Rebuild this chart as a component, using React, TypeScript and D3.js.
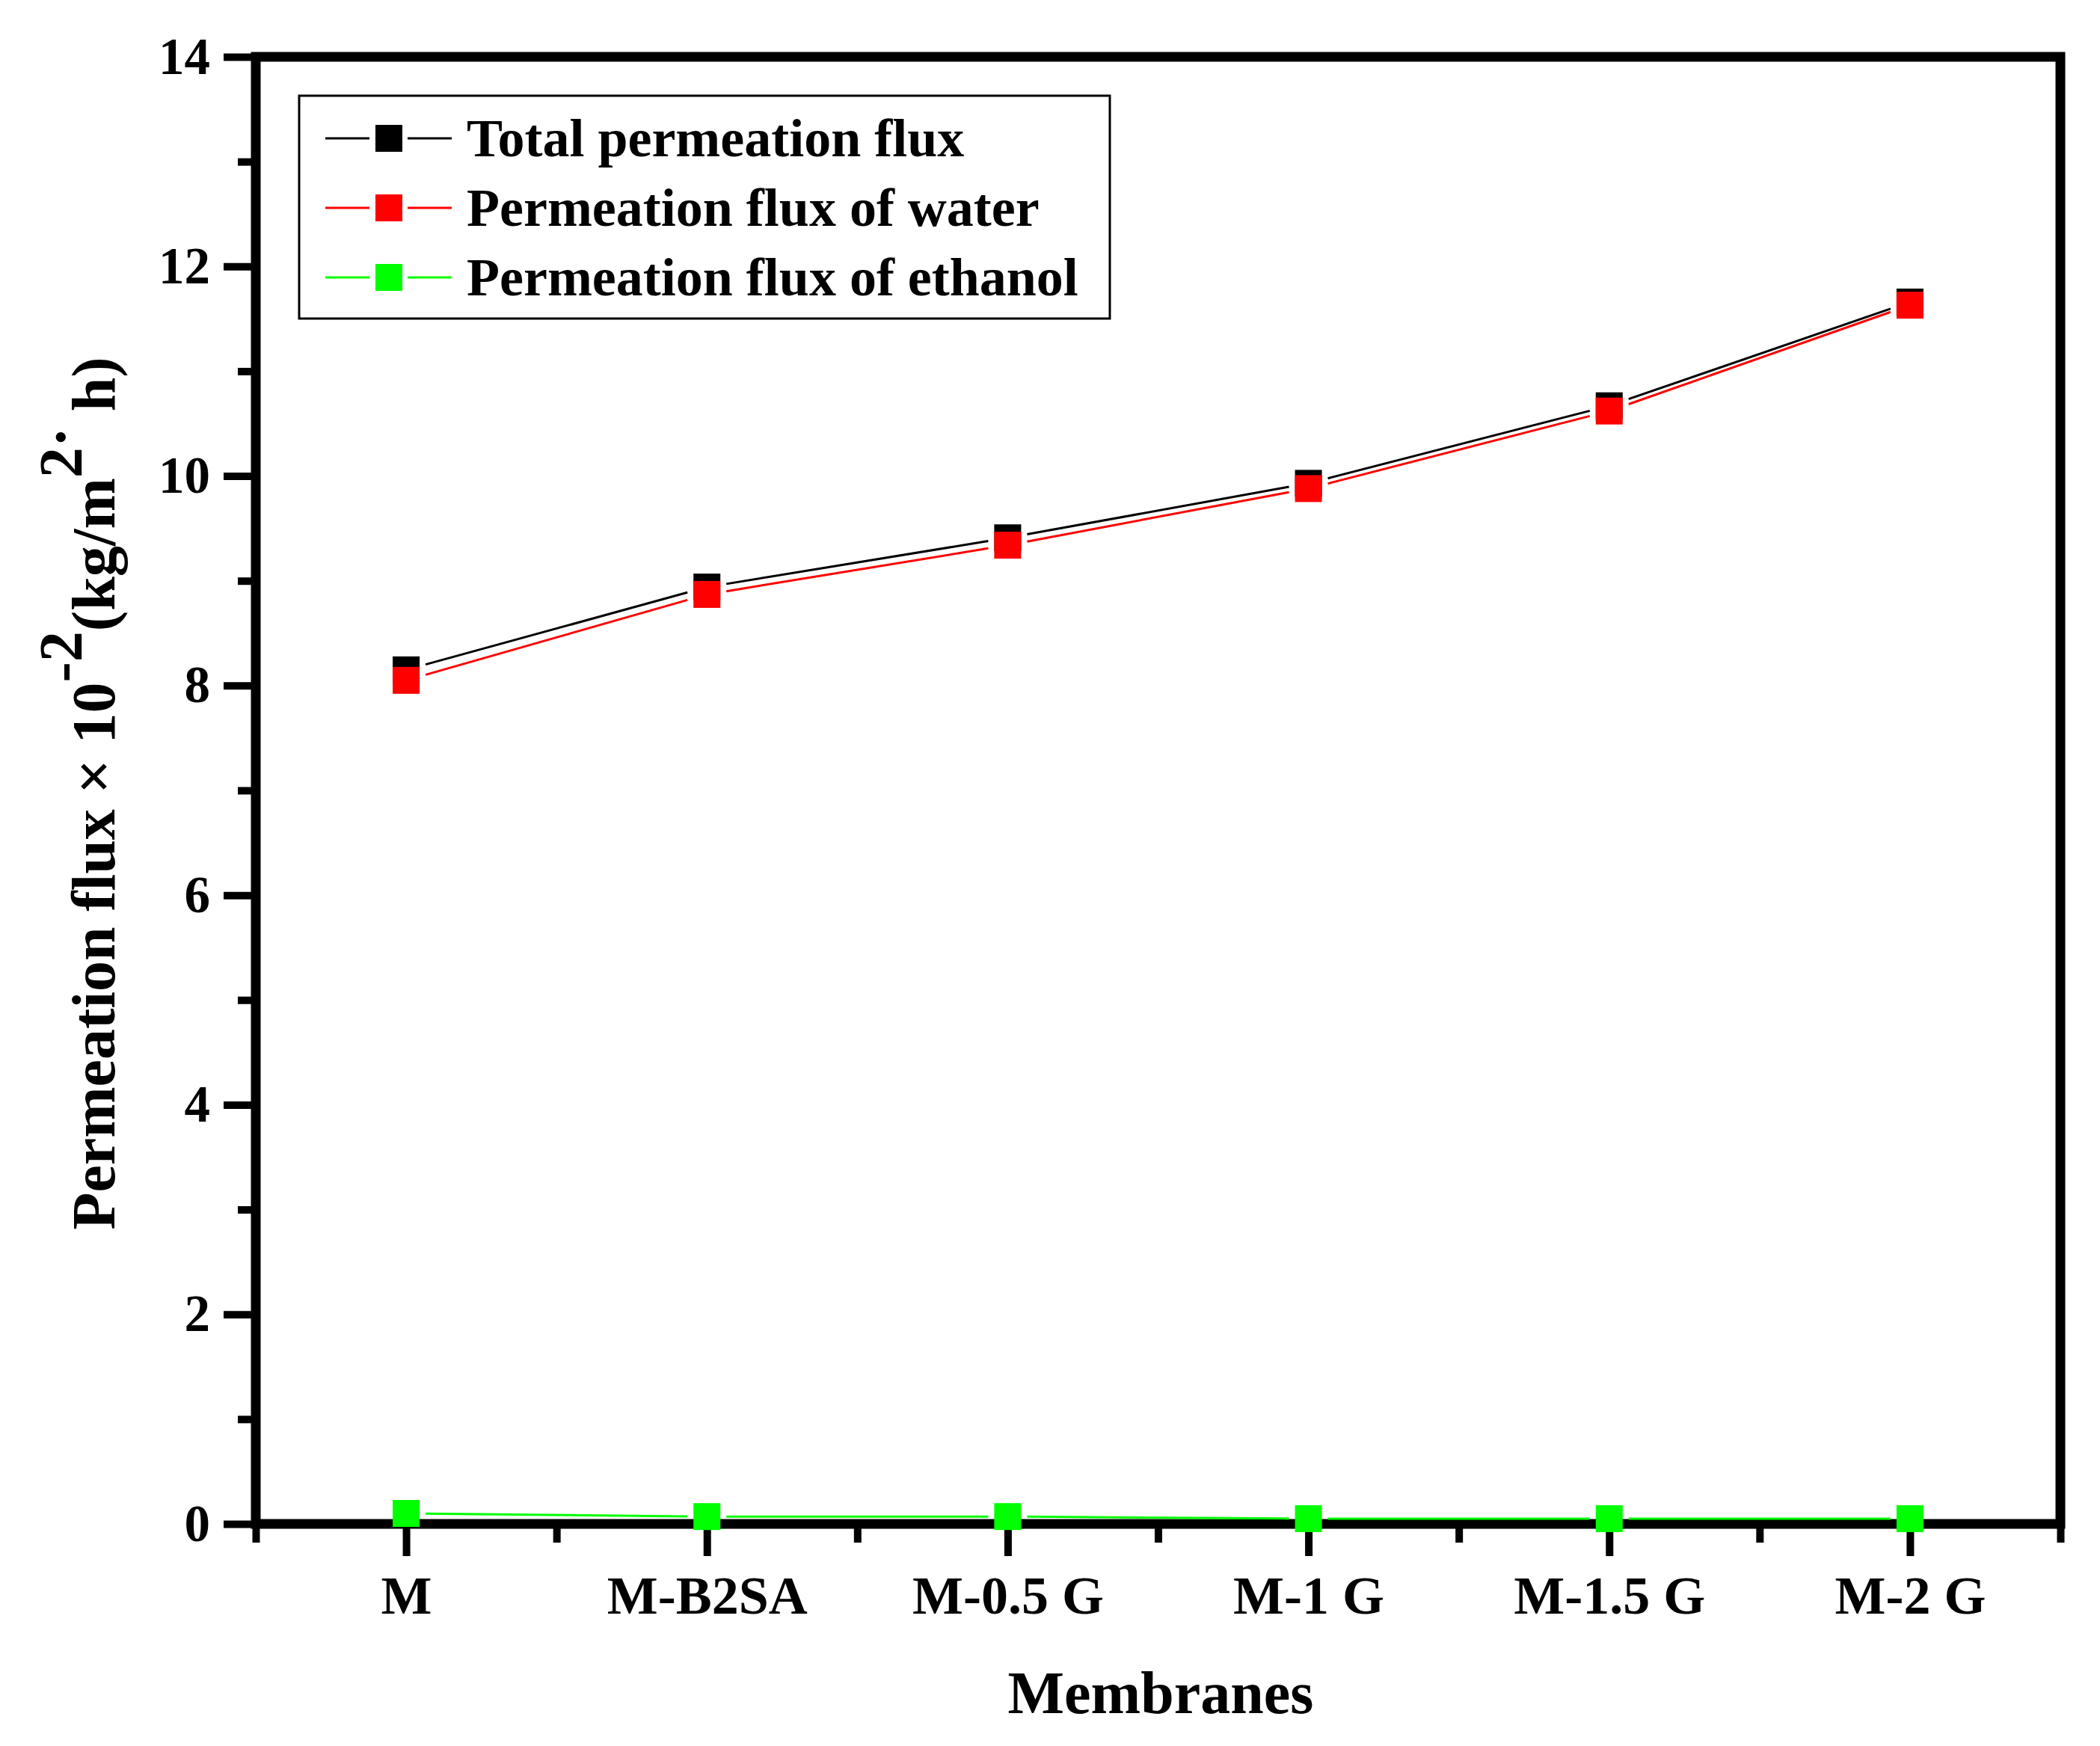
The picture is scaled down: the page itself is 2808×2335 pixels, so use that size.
import React, { useRef, useEffect } from "react";
import * as d3 from "d3";

const membranes = ["M", "M-B2SA", "M-0.5 G", "M-1 G", "M-1.5 G", "M-2 G"];
const totalFlux = [8.15, 8.94, 9.41, 9.93, 10.67, 11.66];
const waterFlux = [8.05, 8.87, 9.34, 9.88, 10.62, 11.63];
const ethanolFlux = [0.1, 0.07, 0.07, 0.05, 0.05, 0.05];
const yMajorTicks = [0, 2, 4, 6, 8, 10, 12, 14];
const yMinorTicks = [1, 3, 5, 7, 9, 11, 13];

const seriesNames = [
  "Total permeation flux",
  "Permeation flux of water",
  "Permeation flux of ethanol",
];
const seriesColors = ["#000000", "#ff0000", "#00ff00"];

const W = 2808;
const H = 2335;
const FONT = "'Liberation Serif', 'Times New Roman', serif";

const App: React.FC = () => {
  const svgRef = useRef<SVGSVGElement | null>(null);

  useEffect(() => {
    if (!svgRef.current) return;
    const svg = d3.select(svgRef.current);
    svg.selectAll("*").remove();

    const left = 342;
    const right = 2755;
    const top = 76;
    const bottom = 2038;

    const x = d3.scaleLinear().domain([-0.5, membranes.length - 0.5]).range([left, right]);
    const y = d3.scaleLinear().domain([0, 14]).range([bottom, top]);

    svg.append("rect").attr("width", W).attr("height", H).attr("fill", "#fff");

    // y axis ticks
    const yMajor = svg
      .append("g")
      .attr("transform", `translate(${left},0)`)
      .call(
        d3.axisLeft(y).tickValues(yMajorTicks).tickSize(43).tickSizeOuter(0).tickPadding(18).tickFormat(d3.format("d"))
      );
    yMajor.select(".domain").remove();
    yMajor.selectAll(".tick line").attr("stroke", "#000").attr("stroke-width", 10);
    yMajor
      .selectAll(".tick text")
      .attr("font-family", FONT)
      .attr("font-weight", "bold")
      .attr("font-size", 69)
      .attr("fill", "#000");

    const yMinor = svg
      .append("g")
      .attr("transform", `translate(${left},0)`)
      .call(d3.axisLeft(y).tickValues(yMinorTicks).tickSize(24).tickSizeOuter(0).tickFormat(() => ""));
    yMinor.select(".domain").remove();
    yMinor.selectAll(".tick line").attr("stroke", "#000").attr("stroke-width", 10);

    // x axis ticks
    const xMajor = svg
      .append("g")
      .attr("transform", `translate(0,${bottom})`)
      .call(
        d3
          .axisBottom(x)
          .tickValues(membranes.map((_, i) => i))
          .tickSize(43)
          .tickSizeOuter(0)
          .tickPadding(26)
          .tickFormat((d) => membranes[d as number])
      );
    xMajor.select(".domain").remove();
    xMajor.selectAll(".tick line").attr("stroke", "#000").attr("stroke-width", 10);
    xMajor
      .selectAll(".tick text")
      .attr("font-family", FONT)
      .attr("font-weight", "bold")
      .attr("font-size", 72)
      .attr("fill", "#000");

    const xMinor = svg
      .append("g")
      .attr("transform", `translate(0,${bottom})`)
      .call(
        d3
          .axisBottom(x)
          .tickValues(d3.range(-0.5, membranes.length, 1))
          .tickSize(25)
          .tickSizeOuter(0)
          .tickFormat(() => "")
      );
    xMinor.select(".domain").remove();
    xMinor.selectAll(".tick line").attr("stroke", "#000").attr("stroke-width", 10);

    // frame
    svg
      .append("rect")
      .attr("x", left)
      .attr("y", top)
      .attr("width", right - left)
      .attr("height", bottom - top)
      .attr("fill", "none")
      .attr("stroke", "#000")
      .attr("stroke-width", 13);

    // axis titles
    svg
      .append("text")
      .attr("x", 1552)
      .attr("y", 2291)
      .attr("text-anchor", "middle")
      .attr("font-family", FONT)
      .attr("font-weight", "bold")
      .attr("font-size", 80)
      .text("Membranes");

    const yTitle = svg
      .append("text")
      .attr("transform", `translate(153,${(top + bottom) / 2 + 4}) rotate(-90)`)
      .attr("text-anchor", "middle")
      .attr("font-family", FONT)
      .attr("font-weight", "bold")
      .attr("font-size", 82);
    yTitle.append("tspan").text("Permeation flux × 10");
    yTitle.append("tspan").attr("dy", -44).text("-2");
    yTitle.append("tspan").attr("dy", 44).text("(kg/m");
    yTitle.append("tspan").attr("dy", -44).text("2·");
    yTitle.append("tspan").attr("dy", 44).text(" h)");

    // series
    const marker = 36;
    const gap = 8;
    const series = [totalFlux, waterFlux, ethanolFlux];
    series.forEach((vals, si) => {
      const color = seriesColors[si];
      const pts = vals.map((v, i) => [x(i), y(v)] as [number, number]);
      const g = svg.append("g");
      for (let i = 0; i < pts.length - 1; i++) {
        const [x0, y0] = pts[i];
        const [x1, y1] = pts[i + 1];
        const dx = x1 - x0;
        const dy = y1 - y0;
        const off = marker / 2 + gap;
        const t = off / dx;
        g.append("line")
          .attr("x1", x0 + dx * t)
          .attr("y1", y0 + dy * t)
          .attr("x2", x1 - dx * t)
          .attr("y2", y1 - dy * t)
          .attr("stroke", color)
          .attr("stroke-width", 3);
      }
      g.selectAll("rect")
        .data(pts)
        .join("rect")
        .attr("x", (d) => d[0] - marker / 2)
        .attr("y", (d) => d[1] - marker / 2)
        .attr("width", marker)
        .attr("height", marker)
        .attr("fill", color);
    });

    // legend
    const legend = svg.append("g");
    legend
      .append("rect")
      .attr("x", 400)
      .attr("y", 128)
      .attr("width", 1084)
      .attr("height", 298)
      .attr("fill", "#fff")
      .attr("stroke", "#000")
      .attr("stroke-width", 3);
    seriesNames.forEach((name, i) => {
      const cy = 185 + i * 93;
      const color = seriesColors[i];
      legend.append("line").attr("x1", 435).attr("x2", 494).attr("y1", cy).attr("y2", cy).attr("stroke", color).attr("stroke-width", 3);
      legend.append("line").attr("x1", 545).attr("x2", 604).attr("y1", cy).attr("y2", cy).attr("stroke", color).attr("stroke-width", 3);
      legend
        .append("rect")
        .attr("x", 520 - marker / 2)
        .attr("y", cy - marker / 2)
        .attr("width", marker)
        .attr("height", marker)
        .attr("fill", color);
      legend
        .append("text")
        .attr("x", 624)
        .attr("y", cy + 24)
        .attr("font-family", FONT)
        .attr("font-weight", "bold")
        .attr("font-size", 72)
        .attr("fill", "#000")
        .text(name);
    });
  }, []);

  return (
    <svg
      ref={svgRef}
      width={W}
      height={H}
      style={{ position: "absolute", left: 0, top: 0, display: "block" }}
    />
  );
};

export default App;
